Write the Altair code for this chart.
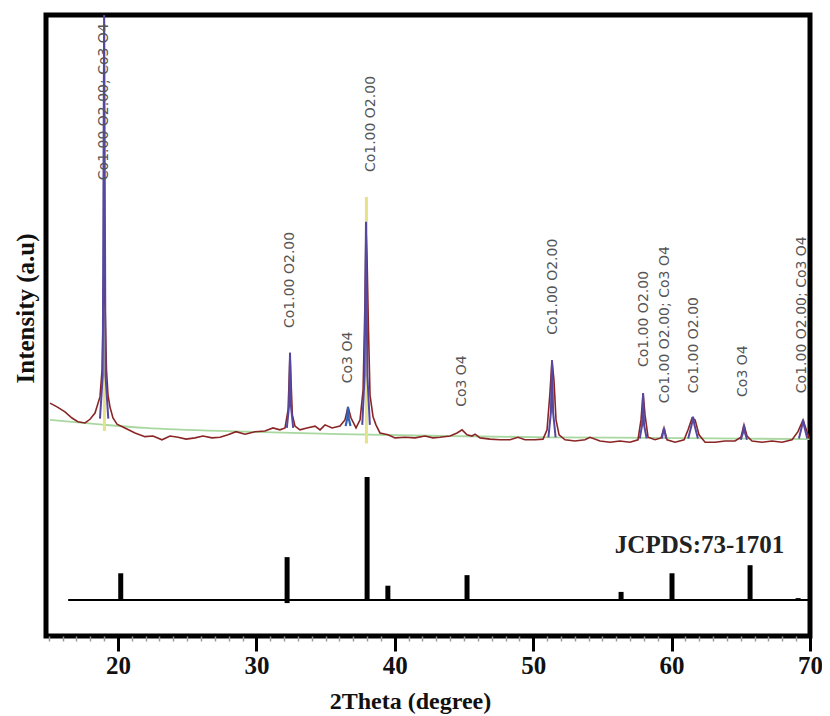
import altair as alt
import pandas as pd

# ---------------- data ----------------
meas_x = [15.09, 15.6, 16.17, 16.68, 17.1, 17.62, 17.98, 18.34, 18.7, 18.85, 18.95, 19.0, 19.06, 19.17,
          19.28, 19.42, 19.64, 19.93, 20.5, 21.23, 21.95, 22.53, 23.18, 23.76, 24.34, 24.92, 25.57,
          26.14, 26.79, 27.37, 27.95, 28.53, 29.18, 29.9, 30.62, 31.2, 31.7, 32.07, 32.29, 32.39,
          32.43, 32.5, 32.6, 32.79, 33.15, 33.66, 34.24, 34.6, 34.96, 35.47, 36.04, 36.4, 36.62,
          36.84, 37.2, 37.49, 37.71, 37.85, 37.92, 38.0, 38.1, 38.21, 38.43, 38.64, 38.93, 39.51,
          40.02, 40.74, 41.46, 42.18, 42.76, 43.27, 43.99, 44.5, 44.86, 45.22, 45.58, 45.8, 46.16,
          46.88, 47.6, 48.33, 48.9, 49.41, 50.13, 50.71, 51.0, 51.2, 51.36, 51.5, 51.65, 51.87,
          52.3, 53.02, 53.74, 54.1, 54.83, 55.55, 56.27, 56.99, 57.57, 57.79, 57.94, 58.08, 58.3,
          58.8, 59.24, 59.45, 59.67, 60.25, 60.9, 61.19, 61.48, 61.7, 61.98, 62.42, 63.14, 63.86,
          64.58, 65.01, 65.23, 65.45, 65.81, 66.53, 67.26, 67.98, 68.7, 69.13, 69.5, 69.78, 70.0]
meas_y = [37.5, 36.9, 36.1, 35.1, 34.5, 34.3, 34.9, 35.9, 38.5, 42.8, 54.1, 62.2, 54.1, 42.8,
          38.8, 36.9, 35.1, 34.1, 33.5, 32.7, 32.1, 32.2, 31.6, 32.2, 32.0, 31.7, 31.9,
          32.2, 31.9, 32.0, 32.4, 32.9, 32.5, 32.9, 33.0, 33.5, 33.2, 33.5, 36.4, 42.8,
          45.6, 41.2, 35.6, 33.8, 33.2, 33.5, 33.8, 33.2, 34.0, 33.5, 33.8, 34.8, 36.9,
          35.1, 33.5, 34.8, 39.6, 54.1, 65.7, 60.5, 49.3, 38.8, 35.3, 34.0, 32.7, 32.4,
          31.9, 32.0, 31.9, 32.2, 31.9, 32.0, 32.2, 32.7, 33.2, 32.4, 32.2, 32.5, 31.9,
          31.7, 31.6, 31.6, 32.0, 31.6, 31.6, 31.7, 33.2, 38.8, 44.4, 41.2, 34.8, 32.4,
          31.6, 31.4, 31.6, 32.0, 31.4, 31.2, 31.4, 31.2, 31.6, 34.8, 39.1, 35.6, 32.0,
          31.6, 31.9, 33.5, 31.6, 31.2, 31.6, 33.2, 35.1, 34.8, 32.4, 31.2, 31.2, 31.4,
          31.4, 32.0, 34.0, 32.2, 31.4, 31.2, 31.4, 31.2, 31.6, 32.9, 34.8, 32.9, 31.6]

bg_x = [15.09, 19.06, 21.95, 29.18, 36.04, 43.99, 51.2, 58.44, 70.0]
bg_y = [34.8, 34.0, 33.5, 32.9, 32.5, 32.2, 32.0, 31.9, 31.7]

fit_id = [1]*5 + [2]*5 + [4]*5 + [5]*5 + [6]*5 + [7]*3 + [8]*5 + [9]*5 + [10]*5
fit_x = [18.7, 18.9, 19.0, 19.1, 19.3,
         32.2, 32.36, 32.43, 32.5, 32.66,
         37.65, 37.82, 37.92, 38.02, 38.2,
         51.1, 51.28, 51.36, 51.44, 51.62,
         57.7, 57.87, 57.94, 58.01, 58.2,
         59.3, 59.45, 59.6,
         61.2, 61.45, 61.55, 61.65, 61.9,
         65.0, 65.17, 65.23, 65.29, 65.45,
         69.2, 69.42, 69.5, 69.58, 69.8]
fit_y = [35.0, 42.0, 101.0, 42.0, 35.0,
         33.5, 37.0, 45.6, 37.0, 33.5,
         34.0, 42.0, 66.7, 42.0, 34.0,
         32.0, 36.0, 44.4, 36.0, 32.0,
         31.8, 34.0, 39.1, 34.0, 31.8,
         31.8, 33.5, 31.8,
         31.8, 34.0, 35.3, 34.0, 31.8,
         31.6, 32.8, 34.0, 32.8, 31.6,
         31.8, 33.8, 34.8, 33.8, 31.8]

blue_x = [36.45, 36.56, 36.62, 36.68, 36.8]
blue_y = [33.8, 35.0, 36.9, 35.0, 33.8]

yel_x = [19.02, 37.95]
yel_y1 = [33.0, 31.0]
yel_y2 = [60.0, 70.7]

lab_x = [19.0, 32.43, 36.62, 38.25, 44.85, 51.43, 58.0, 59.5, 61.6, 65.16, 69.42]
lab_y = [73.4, 49.6, 40.7, 74.7, 36.9, 48.5, 43.3, 37.5, 39.1, 38.5, 39.1]
lab_t = ["Co1.00 O2.00; Co3 O4", "Co1.00 O2.00", "Co3 O4", "Co1.00 O2.00", "Co3 O4",
         "Co1.00 O2.00", "Co1.00 O2.00", "Co1.00 O2.00; Co3 O4", "Co1.00 O2.00", "Co3 O4",
         "Co1.00 O2.00; Co3 O4"]

stick_x = [20.2, 32.22, 38.0, 39.5, 45.22, 56.35, 60.03, 65.67, 69.14]
stick_lo = [5.8, 5.3, 5.8, 5.8, 5.8, 5.8, 5.8, 5.8, 5.8]
stick_hi = [10.1, 12.7, 25.6, 8.1, 9.8, 7.1, 10.1, 11.4, 6.1]

ref_base_x = [16.4]
ref_base_x2 = [70.0]
ref_base_y = [5.8]

ref_label = ["JCPDS:73-1701"]
ref_label_x = [55.9]
ref_label_y = [14.6]

x_ticks = list(range(15, 71))

# ---------------- chart ----------------
XDOM = [14.8, 70]
YDOM = [0, 100]
SERIF = "Liberation Serif"

xscale = alt.Scale(domain=XDOM, nice=False, zero=False)
yscale = alt.Scale(domain=YDOM, nice=False, zero=False)

xaxis = alt.Axis(
    values=x_ticks,
    labelExpr="datum.value % 10 === 0 ? datum.label : ''",
    tickSize={"condition": {"test": "datum.value % 10 === 0", "value": 15}, "value": 5},
    tickWidth={"condition": {"test": "datum.value % 10 === 0", "value": 3}, "value": 1.5},
    tickColor={"condition": {"test": "datum.value % 10 === 0", "value": "black"}, "value": "#9a9a9a"},
    domain=False, grid=False,
    labelFont=SERIF, labelFontSize=25, labelFontWeight="bold", labelColor="#111",
    labelPadding=2, labelFlush=False, labelOverlap=False,
    title="2Theta (degree)", titleFont=SERIF, titleFontSize=24, titleFontWeight="bold",
    titleColor="#111", titleX=364, titleY=53, titleBaseline="top", titleAnchor="start",
    titleAlign="center",
)
yaxis = alt.Axis(
    labels=False, ticks=False, domain=False, grid=False,
    title="Intensity (a.u)", titleFont=SERIF, titleFontSize=25, titleFontWeight="bold",
    titleColor="#111", titleX=-21, titleY=293, titleBaseline="middle", titleAlign="center",
    titleAngle=270,
)


def X(field):
    return alt.X(f"{field}:Q", scale=xscale, axis=xaxis)


def Y(field):
    return alt.Y(f"{field}:Q", scale=yscale, axis=yaxis)


meas = pd.DataFrame({"x": meas_x, "y": meas_y})
bg = pd.DataFrame({"x": bg_x, "y": bg_y})
fit = pd.DataFrame({"x": fit_x, "y": fit_y, "id": fit_id})
blue = pd.DataFrame({"x": blue_x, "y": blue_y})
yel = pd.DataFrame({"x": yel_x, "y": yel_y1, "y2": yel_y2})
labs = pd.DataFrame({"x": lab_x, "y": lab_y, "t": lab_t})
sticks = pd.DataFrame({"x": stick_x, "y": stick_lo, "y2": stick_hi})
base = pd.DataFrame({"x": ref_base_x, "x2": ref_base_x2, "y": ref_base_y})
reflab = pd.DataFrame({"x": ref_label_x, "y": ref_label_y, "t": ref_label})

bg_line = alt.Chart(bg).mark_line(color="#a8d8a0", strokeWidth=1.8, interpolate="monotone").encode(
    x=X("x"), y=Y("y"))

yel_rule = alt.Chart(yel).mark_rule(color="#e6e28c", strokeWidth=3, clip=True).encode(
    x=X("x"), y=Y("y"), y2="y2:Q")

meas_line = alt.Chart(meas).mark_line(color="#8a2525", strokeWidth=1.6, clip=True).encode(
    x=X("x"), y=Y("y"), order="x:Q")

fit_line = alt.Chart(fit).mark_line(color="#5548a0", strokeWidth=2, clip=True).encode(
    x=X("x"), y=Y("y"), detail="id:N", order="x:Q")

blue_line = alt.Chart(blue).mark_line(color="#2f63b8", strokeWidth=2.2).encode(
    x=X("x"), y=Y("y"), order="x:Q")

labels = alt.Chart(labs).mark_text(
    angle=270, align="left", baseline="middle", font="DejaVu Sans", fontSize=14,
    color="#555555").encode(x=X("x"), y=Y("y"), text="t:N")

stick_rules = alt.Chart(sticks).mark_rule(color="black", strokeWidth=5).encode(
    x=X("x"), y=Y("y"), y2="y2:Q")

base_rule = alt.Chart(base).mark_rule(color="black", strokeWidth=2).encode(
    x=X("x"), x2="x2:Q", y=Y("y"))

ref_text = alt.Chart(reflab).mark_text(
    align="left", baseline="middle", font=SERIF, fontSize=25, fontWeight="bold",
    color="#222").encode(x=X("x"), y=Y("y"), text="t:N")

chart = alt.layer(
    bg_line, yel_rule, meas_line, fit_line, blue_line, labels,
    stick_rules, base_rule, ref_text,
).properties(
    width=764, height=621,
    autosize=alt.AutoSizeParams(type="none"),
    padding={"left": 38, "top": 7, "right": 12, "bottom": 78},
    background="white",
).configure_view(stroke="black", strokeWidth=5)

chart.save("out.html", embed_options={"renderer": "svg", "actions": False})
